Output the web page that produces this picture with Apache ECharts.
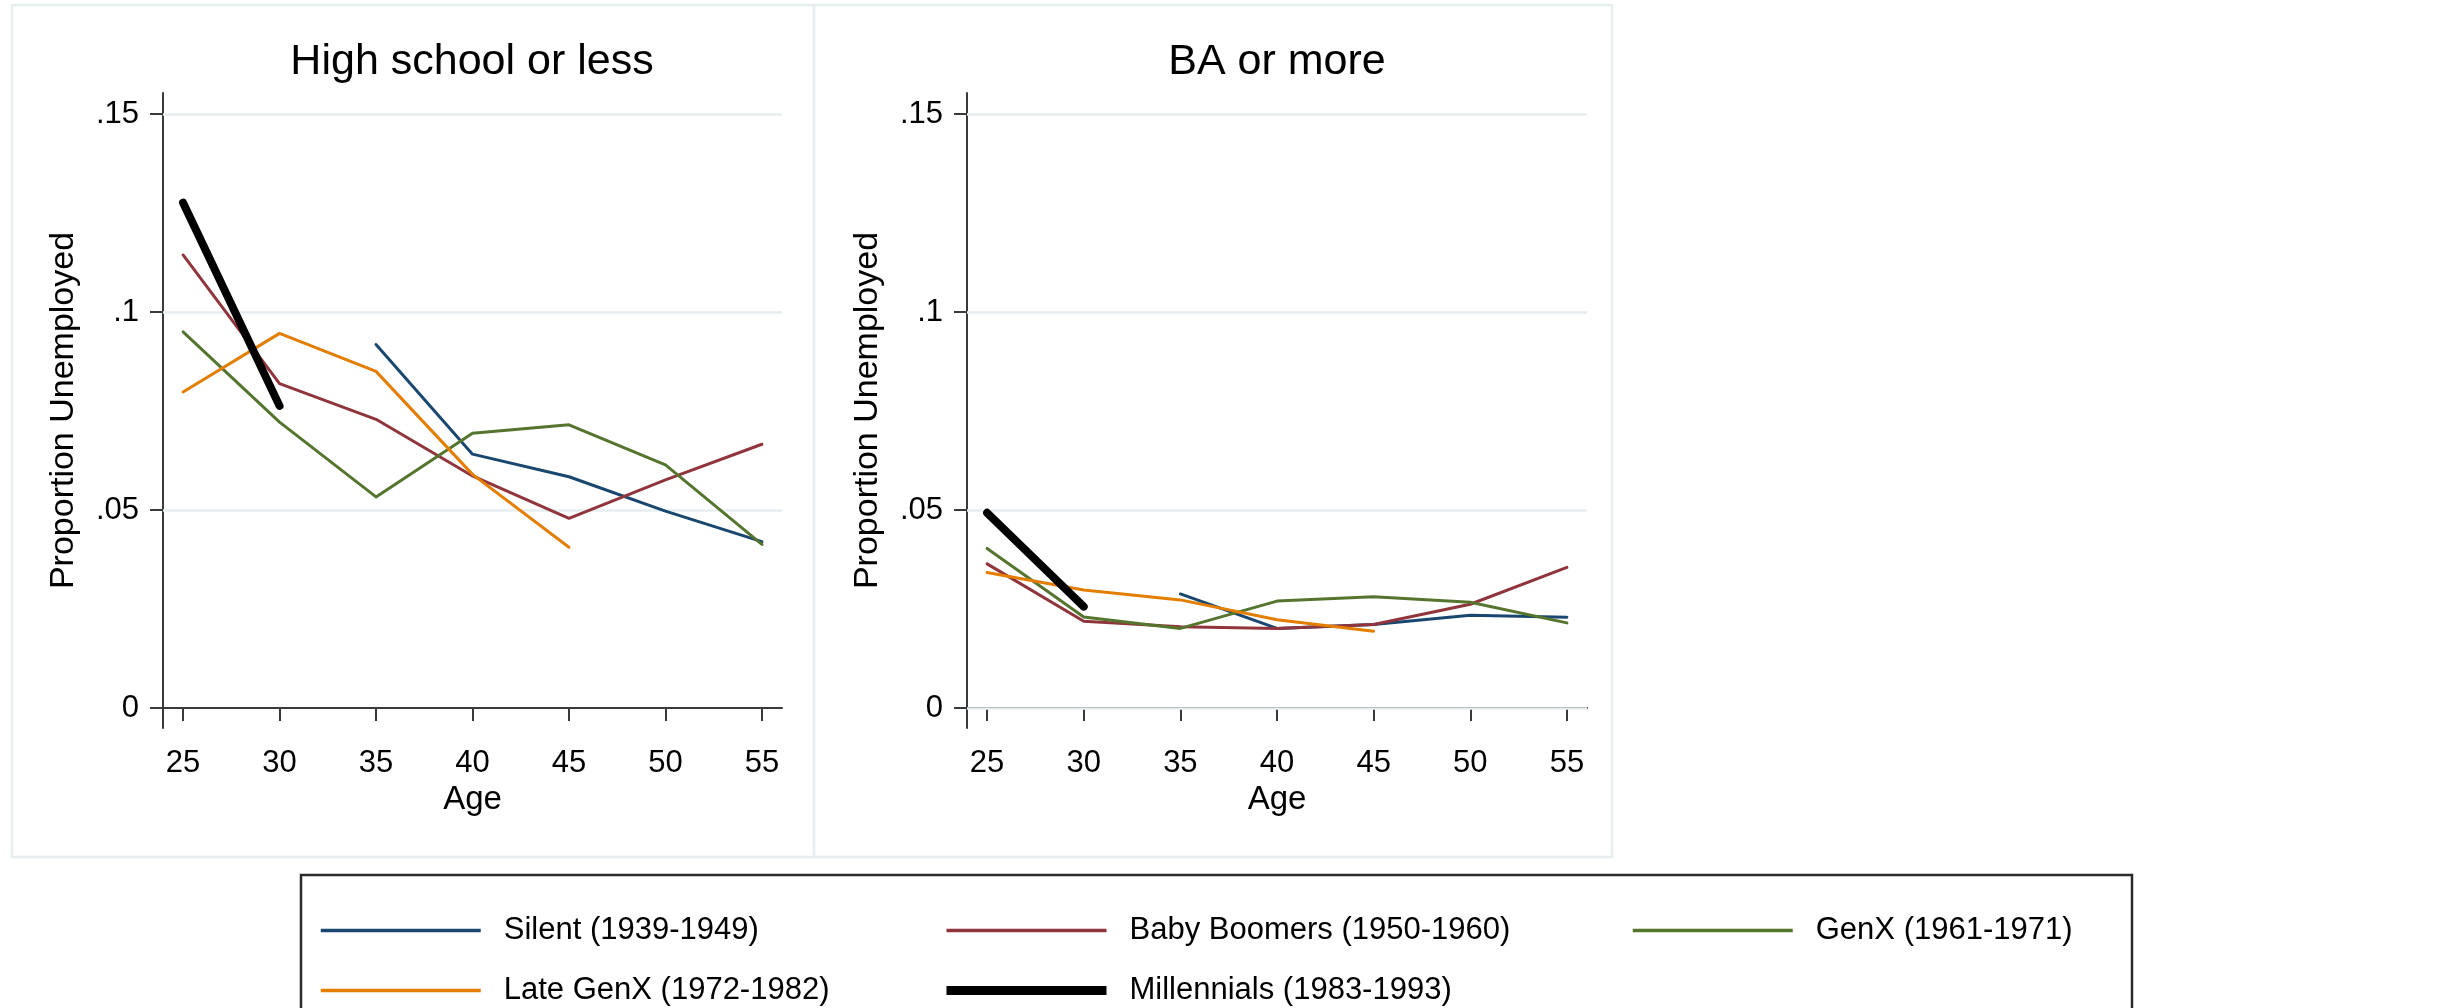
<!DOCTYPE html>
<html>
<head>
<meta charset="utf-8">
<script src="https://cdn.jsdelivr.net/npm/echarts@6/dist/echarts.min.js"></script>
<style>
html,body{margin:0;padding:0;background:#fff;}
#chart{width:2443px;height:1008px;}
</style>
</head>
<body>
<div id="chart"></div>
<script>
// ---- data ----
var ages = [25, 30, 35, 40, 45, 50, 55];
var yTicks = [0, 0.05, 0.1, 0.15];
var yTickLabels = ['0', '.05', '.1', '.15'];
var panelTitles = ['High school or less', 'BA or more'];
var cohortNames = ['Silent (1939-1949)', 'Baby Boomers (1950-1960)', 'GenX (1961-1971)', 'Late GenX (1972-1982)', 'Millennials (1983-1993)'];

var hsSilent      = [null, null, 0.0918, 0.0641, 0.0584, 0.0497, 0.0420];
var hsBoomers     = [0.1144, 0.0819, 0.0729, 0.0586, 0.0479, 0.0576, 0.0666];
var hsGenX        = [0.0950, 0.0722, 0.0533, 0.0694, 0.0715, 0.0614, 0.0413];
var hsLateGenX    = [0.0798, 0.0946, 0.0850, 0.0590, 0.0406, null, null];
var hsMillennials = [0.1276, 0.0763, null, null, null, null, null];

var baSilent      = [null, null, 0.0288, 0.0201, 0.0211, 0.0234, 0.0229];
var baBoomers     = [0.0364, 0.0219, 0.0205, 0.0201, 0.0211, 0.0262, 0.0355];
var baGenX        = [0.0403, 0.0230, 0.0201, 0.0270, 0.0281, 0.0267, 0.0215];
var baLateGenX    = [0.0342, 0.0298, 0.0273, 0.0223, 0.0194, null, null];
var baMillennials = [0.0493, 0.0256, null, null, null, null, null];

var hsGrid = [0.05, 0.1, 0.15];
var baGrid = [0, 0.05, 0.1, 0.15];

// ---- styling ----
var colors = ['#1a476f', '#90353b', '#55752f', '#e37e00', '#000000'];
var widths = [3, 3, 3, 3, 8];
var FONT = 'Liberation Sans, Arial, Helvetica, sans-serif';
var axisColor = '#3a3a3a';
var gridColor = '#e6eef0';

function pairs(vals) {
  return ages.map(function (a, i) { return [a, vals[i]]; });
}

var panels = [
  [hsSilent, hsBoomers, hsGenX, hsLateGenX, hsMillennials],
  [baSilent, baBoomers, baGenX, baLateGenX, baMillennials]
];
var gridVals = [hsGrid, baGrid];

var grids = [
  { left: 163, top: 93, width: 619, height: 635 },
  { left: 967, top: 93, width: 620, height: 635 }
];

var xAxes = [], yAxes = [], series = [];
grids.forEach(function (g, gi) {
  xAxes.push({
    type: 'value', gridIndex: gi, min: 23.96, max: 56.04,
    name: 'Age', nameLocation: 'middle', nameGap: 55,
    nameTextStyle: { fontFamily: FONT, fontSize: 33, color: '#000', lineHeight: 33 },
    axisLine: { show: true, lineStyle: { color: axisColor, width: 2 } },
    axisTick: { show: true, length: 13, lineStyle: { color: axisColor, width: 2 }, customValues: ages },
    axisLabel: { fontFamily: FONT, fontSize: 31, color: '#000', margin: 20, lineHeight: 31, customValues: ages,
      formatter: function (v) { return String(v); } },
    splitLine: { show: false }
  });
  yAxes.push({
    type: 'value', gridIndex: gi, min: -0.00505, max: 0.1553,
    name: 'Proportion Unemployed', nameLocation: 'middle', nameGap: 82, nameRotate: 90,
    nameTextStyle: { fontFamily: FONT, fontSize: 34, color: '#000', lineHeight: 34 },
    axisLine: { show: true, lineStyle: { color: axisColor, width: 2 } },
    axisTick: { show: true, length: 13, lineStyle: { color: axisColor, width: 2 }, customValues: yTicks },
    axisLabel: { fontFamily: FONT, fontSize: 31, color: '#000', margin: 24, lineHeight: 31, customValues: yTicks,
      formatter: function (v) {
        var idx = -1;
        yTicks.forEach(function (t, i) { if (Math.abs(t - v) < 1e-9) idx = i; });
        return idx >= 0 ? yTickLabels[idx] : '';
      } },
    splitLine: { show: false }
  });
  panels[gi].forEach(function (vals, si) {
    var s = {
      type: 'line', name: cohortNames[si], xAxisIndex: gi, yAxisIndex: gi,
      data: pairs(vals), symbol: 'none', showSymbol: false, silent: true,
      connectNulls: false, animation: false, z: 2 + si * 0.1,
      lineStyle: { color: colors[si], width: widths[si], cap: 'round', join: 'round' },
      itemStyle: { color: colors[si] }
    };
    if (si === 0) {
      s.markLine = {
        silent: true, symbol: 'none', animation: false, z: 1,
        label: { show: false },
        lineStyle: { color: gridColor, width: 2.5, type: 'solid' },
        emphasis: { disabled: true },
        data: gridVals[gi].map(function (v) { return { yAxis: v }; })
      };
    }
    series.push(s);
  });
});

function legendAt(left, idxs) {
  return {
    orient: 'vertical', left: left, top: 915, padding: 0,
    itemWidth: 160, itemHeight: 30, itemGap: 29, selectedMode: false,
    itemStyle: { opacity: 0, borderWidth: 0 },
    textStyle: { fontFamily: FONT, fontSize: 31, color: '#000', lineHeight: 30, padding: [0, 0, 0, 18] },
    data: idxs.map(function (i) {
      return {
        name: cohortNames[i],
        itemStyle: { opacity: 0, borderWidth: 0 },
        lineStyle: { color: colors[i], width: i === 4 ? 9 : 3.5, opacity: 1, cap: 'butt' }
      };
    })
  };
}

var option = {
  backgroundColor: '#ffffff',
  animation: false,
  title: [
    { text: panelTitles[0], left: 472, top: 41, textAlign: 'center', padding: 0,
      textStyle: { fontFamily: FONT, fontSize: 43, fontWeight: 'normal', color: '#000', lineHeight: 43 } },
    { text: panelTitles[1], left: 1277, top: 41, textAlign: 'center', padding: 0,
      textStyle: { fontFamily: FONT, fontSize: 43, fontWeight: 'normal', color: '#000', lineHeight: 43 } }
  ],
  grid: grids,
  xAxis: xAxes,
  yAxis: yAxes,
  legend: [
    legendAt(319, [0, 3]),
    legendAt(942, [1, 4]),
    legendAt(1631, [2])
  ],
  graphic: [
    { type: 'rect', silent: true, z: -10, shape: { x: 12, y: 5, width: 802, height: 852 },
      style: { fill: 'none', stroke: gridColor, lineWidth: 2.5 } },
    { type: 'rect', silent: true, z: -10, shape: { x: 814, y: 5, width: 798, height: 852 },
      style: { fill: 'none', stroke: gridColor, lineWidth: 2.5 } },
    { type: 'rect', silent: true, z: -10, shape: { x: 301, y: 875, width: 1831, height: 200 },
      style: { fill: 'none', stroke: '#2a2a2a', lineWidth: 2.5 } }
  ],
  series: series
};

var chart = echarts.init(document.getElementById('chart'), null, { renderer: 'canvas' });
chart.setOption(option);
</script>
</body>
</html>
